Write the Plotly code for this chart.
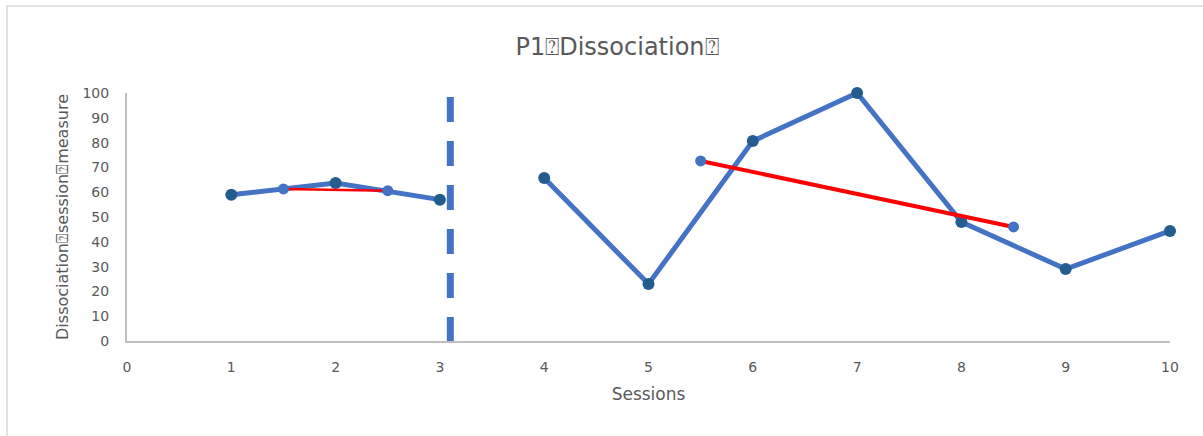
import plotly.graph_objects as go

# Baseline phase (sessions 1-3) and intervention phase (sessions 4-10)
sessions_a = [1, 2, 3]
scores_a = [59, 63.7, 57]
sessions_b = [4, 5, 6, 7, 8, 9, 10]
scores_b = [65.7, 23, 80.6, 100, 48, 29, 44.4]

# Trend lines for each phase
trend_a_x = [1.5, 2.5]
trend_a_y = [61.3, 60.6]
trend_b_x = [5.5, 8.5]
trend_b_y = [72.6, 46]

# Phase change marker
phase_change_x = [3.1, 3.1]
phase_change_y = [98.4, 0]

x_ticks = list(range(0, 11))
y_ticks = list(range(0, 101, 10))

LINE_BLUE = "#4472C4"
MARKER_DARK = "#245C8F"
TEXT_GREY = "#595959"
FONT = "DejaVu Sans"

fig = go.Figure()

fig.add_trace(go.Scatter(
    x=phase_change_x, y=phase_change_y, mode="lines",
    line=dict(color=LINE_BLUE, width=7, dash="25px,19px"),
    hoverinfo="skip", showlegend=False,
))

for xs, ys in ((sessions_a, scores_a), (sessions_b, scores_b)):
    fig.add_trace(go.Scatter(
        x=xs, y=ys, mode="lines+markers",
        line=dict(color=LINE_BLUE, width=5),
        marker=dict(color=MARKER_DARK, size=12),
        showlegend=False, cliponaxis=False,
    ))

for xs, ys, w in ((trend_a_x, trend_a_y, 2.5), (trend_b_x, trend_b_y, 4)):
    fig.add_trace(go.Scatter(
        x=xs, y=ys, mode="lines",
        line=dict(color="#FF0000", width=w),
        showlegend=False, cliponaxis=False,
    ))
    fig.add_trace(go.Scatter(
        x=xs, y=ys, mode="markers",
        marker=dict(color=LINE_BLUE, size=11),
        showlegend=False, cliponaxis=False,
    ))

fig.update_layout(
    width=1203, height=436,
    margin=dict(l=127, r=33, t=93, b=95),
    paper_bgcolor="white", plot_bgcolor="white",
    font=dict(family=FONT, color=TEXT_GREY, size=14),
    title=dict(
        text="P1\u2370Dissociation\u2370",
        x=617 / 1203, xref="container", xanchor="center",
        y=1 - 47 / 436, yref="container", yanchor="middle",
        font=dict(size=24, color=TEXT_GREY, family=FONT),
    ),
    shapes=[dict(
        type="rect", xref="paper", yref="paper",
        x0=(7 - 127) / 1043, x1=(1260 - 127) / 1043,
        y0=(341 - 500) / 248, y1=(341 - 6) / 248,
        line=dict(color="#D9D9D9", width=1.5), fillcolor="rgba(0,0,0,0)",
        layer="below",
    )],
)

fig.update_xaxes(
    range=[0, 10], tickvals=x_ticks, ticktext=[str(v) for v in x_ticks],
    showgrid=False, zeroline=False,
    showline=True, linecolor="#BFBFBF", linewidth=2,
    ticks="", ticklabelstandoff=12,
    tickfont=dict(size=14, color=TEXT_GREY),
    title=dict(text="Sessions", font=dict(size=17, color=TEXT_GREY), standoff=14),
)
fig.update_yaxes(
    range=[0, 100], tickvals=y_ticks, ticktext=[str(v) for v in y_ticks],
    showgrid=False, zeroline=False,
    showline=True, linecolor="#BFBFBF", linewidth=2,
    ticks="", ticklabelstandoff=13,
    tickfont=dict(size=14, color=TEXT_GREY),
    title=dict(text="Dissociation\u2370session\u2370measure",
               font=dict(size=16, color=TEXT_GREY), standoff=10),
)

fig.write_html("out.html")
